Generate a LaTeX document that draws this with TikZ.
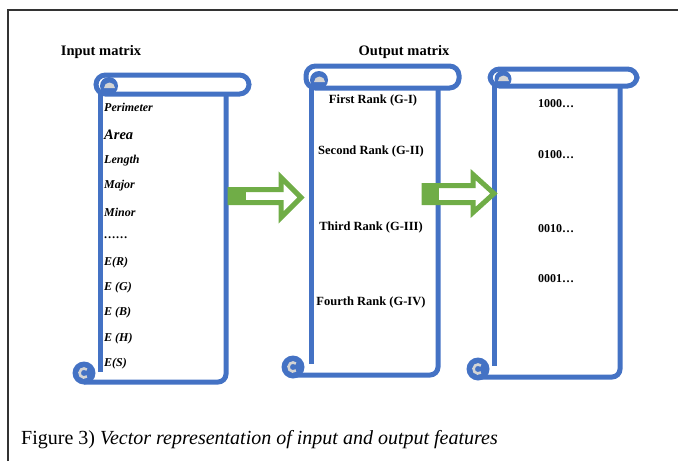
\documentclass[tikz,border=0pt]{standalone}
\usepackage{fontspec}
\setmainfont{Liberation Serif}
\usepackage{tikz}
\usetikzlibrary{calc}
\definecolor{scrollblue}{HTML}{4472C4}
\definecolor{arrowgreen}{HTML}{70AD47}
\definecolor{curlgray}{HTML}{D4D4D4}
\tikzset{
  roll/.style={draw=scrollblue, line width=5pt, fill=white, rounded corners=9.5pt},
  body/.style={draw=scrollblue, line width=5pt, rounded corners=8pt},
  curl/.style={fill=scrollblue},
  feature/.style={anchor=west, font=\bfseries\itshape\fontsize{12}{14}\selectfont, inner sep=0pt},
  rank/.style={font=\bfseries\fontsize{12.5}{14}\selectfont, inner sep=0pt},
  code/.style={font=\bfseries\fontsize{12}{14}\selectfont, inner sep=0pt},
  heading/.style={font=\bfseries\fontsize{14.5}{16}\selectfont, inner sep=0pt},
  blockarrow/.style={draw=arrowgreen, line width=5pt, fill=white, line join=miter}
}
\begin{document}
\begin{tikzpicture}[x=1pt,y=-1pt]
  \useasboundingbox (0,0) rectangle (678,461);
  % frame
  \draw[line width=1.4pt, black!80] (8,461) -- (8,10) -- (678,10);

  % input scroll
  \draw[body] (100,94) -- (100,372);
  \draw[body] (226,94) -- (226,382) -- (84,382);
  \fill[curl] (84,373) circle (11.5);
  \draw[curlgray, line width=2.6pt] (84,373) ++(50:4.5) arc (50:310:4.5);
  \draw[roll] (96,75) rectangle (249,94);
  \fill[curl] (109,86) circle (9);
  \fill[curlgray] (104,88) arc (180:360:5.5) -- cycle;

  % output scroll
  \draw[body] (311,88) -- (311,364);
  \draw[body] (438,88) -- (438,375) -- (293,375);
  \draw[roll] (306,66) rectangle (459,88);
  \fill[curl] (293,367) circle (11.5);
  \draw[curlgray, line width=2.6pt] (293,367) ++(50:4.5) arc (50:310:4.5);
  \fill[curl] (319,80) circle (9);
  \fill[curlgray] (314,82) arc (180:360:5.5) -- cycle;

  % code scroll
  \draw[body] (494,86) -- (494,366);
  \draw[body] (620,86) -- (620,377) -- (478,377);
  \draw[roll] (490,69) rectangle (637,86);
  \fill[curl] (478,369) circle (11.5);
  \draw[curlgray, line width=2.6pt] (478,369) ++(50:4.5) arc (50:310:4.5);
  \fill[curl] (503,79) circle (8.5);
  \fill[curlgray] (498,81) arc (180:360:5.5) -- cycle;

  % arrows
  \draw[blockarrow] (230,189.5) -- (281,189.5) -- (281,177.5) -- (301,197.5)
    -- (281,217.5) -- (281,202.5) -- (230,202.5) -- cycle;
  \fill[arrowgreen] (228,187) rectangle (246,205);
  \draw[blockarrow] (424,185.5) -- (473,185.5) -- (473,174.5) -- (494,193.5)
    -- (473,212.5) -- (473,202.5) -- (424,202.5) -- cycle;
  \fill[arrowgreen] (422,183) rectangle (439,205);

  % headings
  \node[heading] (inhead) at (101,52) {Input matrix};
  \node[heading] (outhead) at (404,52) {Output matrix};

  % input features
  \node[feature] (perim) at (104,107) {Perimeter};
  \node[feature, font=\bfseries\itshape\fontsize{14.5}{16}\selectfont] (area) at (104,135) {Area};
  \node[feature] (length) at (104,161) {Length};
  \node[feature] (major) at (104,186) {Major};
  \node[feature] (minor) at (104,212) {Minor};
  \node[feature] (dots) at (104,238) {……};
  \node[feature] (er) at (104,263) {E(R)};
  \node[feature] (eg) at (104,288) {E (G)};
  \node[feature] (eb) at (104,313) {E (B)};
  \node[feature] (eh) at (104,339) {E (H)};
  \node[feature] (es) at (104,364) {E(S)};

  % output ranks
  \node[rank] (g1) at (373,100) {First Rank (G-I)};
  \node[rank] (g2) at (371,151) {Second Rank (G-II)};
  \node[rank] (g3) at (371,227) {Third Rank (G-III)};
  \node[rank] (g4) at (371,302) {Fourth Rank (G-IV)};

  % codes
  \node[code] (c1) at (556,104) {1000…};
  \node[code] (c2) at (556,155) {0100…};
  \node[code] (c3) at (556,229) {0010…};
  \node[code] (c4) at (556,279) {0001…};

  % caption
  \node[anchor=west, inner sep=0pt, font=\fontsize{20}{24}\selectfont] (caption) at (21,440)
    {Figure 3) \textit{Vector representation of input and output features}};
\end{tikzpicture}
\end{document}
